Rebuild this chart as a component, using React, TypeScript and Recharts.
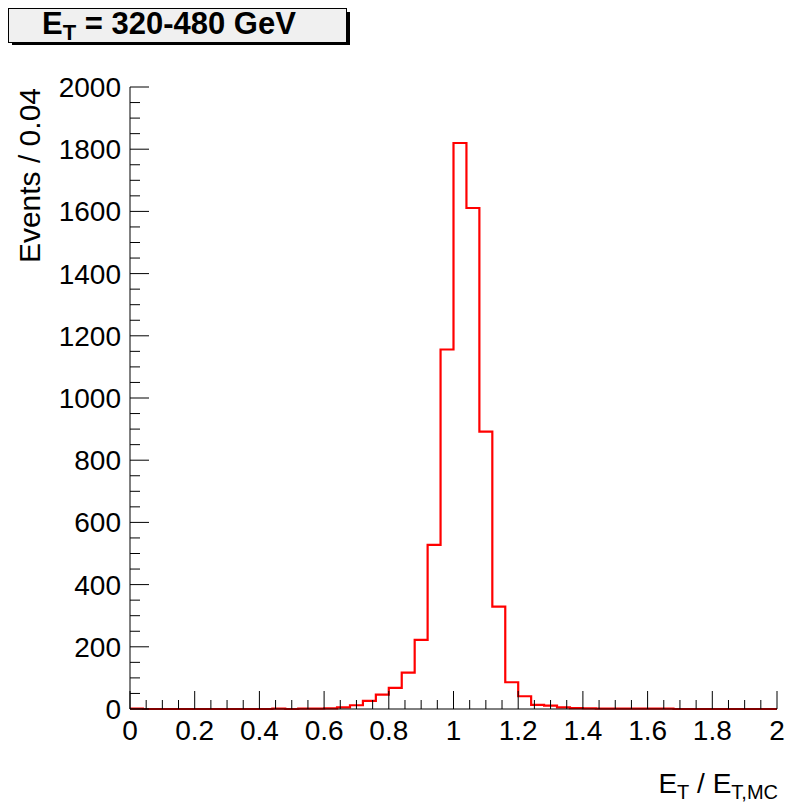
import { LineChart, Line, XAxis, YAxis } from "recharts";

// events per 0.04 bin, from x = 0 to x = 2
const binWidth = 0.04;
const counts = [
    1, 0, 0, 0, 0, 0, 0, 0, 0, 0,
    0, 1, 0, 1, 1, 2, 5, 12, 26, 46,
    68, 117, 222, 528, 1156, 1820, 1611, 892, 329, 86,
    41, 13, 11, 5, 3, 2, 1, 1, 1, 1,
    1, 1, 0, 0, 0, 0, 0, 0, 0, 0,
];

const xMajorTicks = [0, 0.2, 0.4, 0.6, 0.8, 1, 1.2, 1.4, 1.6, 1.8, 2];
const yMajorTicks = [0, 200, 400, 600, 800, 1000, 1200, 1400, 1600, 1800, 2000];
const xMinorDiv = 4;
const yMinorDiv = 4;

const titleText = "320-480 GeV";
const yTitle = "Events / 0.04";

const FONT = "'Liberation Sans', Arial, Helvetica, sans-serif";

// bin edges for a step line (last edge repeats the last bin)
const histData = [
    ...counts.map((c, i) => ({ x: +(i * binWidth).toFixed(4), y: c })),
    { x: +(counts.length * binWidth).toFixed(4), y: counts[counts.length - 1] },
];

function withMinors(majors: number[], div: number) {
    const out: number[] = [];
    majors.forEach((m, i) => {
        out.push(m);
        if (i < majors.length - 1) {
            const step = (majors[i + 1] - m) / div;
            for (let k = 1; k < div; k++) out.push(+(m + k * step).toFixed(4));
        }
    });
    return out;
}

const xTicks = withMinors(xMajorTicks, xMinorDiv);
const yTicks = withMinors(yMajorTicks, yMinorDiv);

const isMajor = (v: number, majors: number[]) => majors.some((m) => Math.abs(m - v) < 1e-6);

function XTick(props: any) {
    const { x, y, payload } = props;
    const v = payload.value;
    const major = isMajor(v, xMajorTicks);
    return (
        <g>
            <line x1={x} x2={x} y1={y} y2={y - (major ? 18 : 9)} stroke="#000" strokeWidth={1} />
            {major && (
                <text x={x} y={y + 31} textAnchor="middle" fontSize={28} fontFamily={FONT} fill="#000">
                    {String(+v.toFixed(1))}
                </text>
            )}
        </g>
    );
}

function YTick(props: any) {
    const { x, y, payload } = props;
    const v = payload.value;
    const major = isMajor(v, yMajorTicks);
    return (
        <g>
            <line x1={x} x2={x + (major ? 19 : 10)} y1={y} y2={y} stroke="#000" strokeWidth={1} />
            {major && (
                <text x={x - 9} y={y + 10} textAnchor="end" fontSize={28} fontFamily={FONT} fill="#000">
                    {v}
                </text>
            )}
        </g>
    );
}

export default function App() {
    return (
        <div style={{ position: "absolute", left: 0, top: 0, width: 792, height: 805, background: "#fff" }}>
            <LineChart
                width={792}
                height={805}
                data={histData}
                margin={{ top: 87, right: 15, left: 0, bottom: 0 }}
            >
                <XAxis
                    dataKey="x"
                    type="number"
                    domain={[0, 2]}
                    ticks={xTicks}
                    interval={0}
                    height={96}
                    tickSize={0}
                    tickMargin={0}
                    tickLine={false}
                    axisLine={{ stroke: "#000", strokeWidth: 1 }}
                    tick={<XTick />}
                />
                <YAxis
                    type="number"
                    domain={[0, 2000]}
                    ticks={yTicks}
                    interval={0}
                    width={130}
                    tickSize={0}
                    tickMargin={0}
                    tickLine={false}
                    axisLine={{ stroke: "#000", strokeWidth: 1 }}
                    tick={<YTick />}
                />
                <Line
                    dataKey="y"
                    type="stepAfter"
                    stroke="#ff0000"
                    strokeWidth={2.2}
                    dot={false}
                    activeDot={false}
                    isAnimationActive={false}
                />
            </LineChart>
            <svg
                width={792}
                height={805}
                style={{ position: "absolute", left: 0, top: 0, pointerEvents: "none" }}
                fontFamily={FONT}
            >
                {/* title pave with shadow */}
                <rect x={12} y={12} width={338} height={33} fill="#000" />
                <rect x={8.5} y={8.5} width={338} height={34} fill="#f0f0f0" stroke="#000" strokeWidth={1} />
                <text x={42} y={34} fontSize={31} fontWeight="bold" fill="#000">
                    E<tspan fontSize={22} dy={6}>T</tspan>
                    <tspan dy={-6}>{" = " + titleText}</tspan>
                </text>
                {/* y title */}
                <text
                    transform="translate(40, 88) rotate(-90)"
                    textAnchor="end"
                    fontSize={30}
                    fill="#000"
                >
                    {yTitle}
                </text>
                {/* x title */}
                <text x={778} y={793} textAnchor="end" fontSize={28} fill="#000">
                    E<tspan fontSize={20} dy={6}>T</tspan>
                    <tspan dy={-6}>{" / E"}</tspan>
                    <tspan fontSize={20} dy={6}>T,MC</tspan>
                </text>
            </svg>
        </div>
    );
}
